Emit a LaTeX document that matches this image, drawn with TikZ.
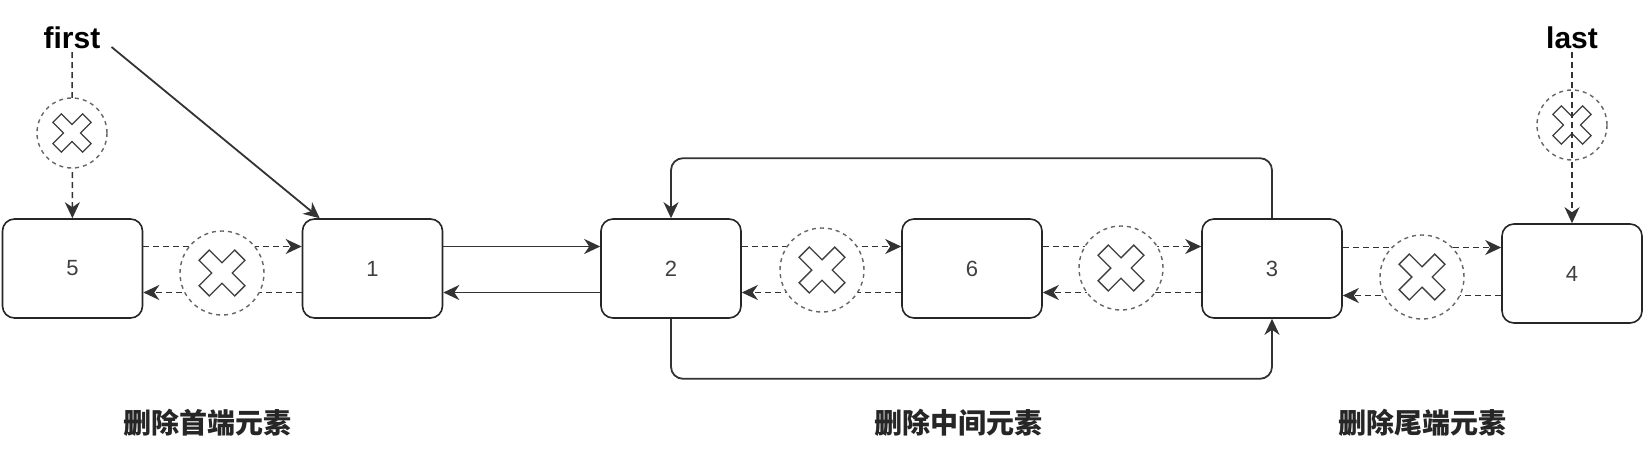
\documentclass[tikz,border=0pt]{standalone}
\usepackage{fontspec}
\setmainfont{Liberation Sans}
\newfontfamily\cjk{Noto Sans CJK SC}
\usetikzlibrary{arrows.meta}

\tikzset{
  listnode/.style={draw=black!85, line width=1.6pt, rounded corners=12pt, minimum width=140pt, minimum height=99pt, fill=white, font=\fontsize{22}{26}\selectfont, text=black!75},
  ptr/.style={font=\fontsize{30}{36}\selectfont\bfseries, inner sep=3pt},
  drop/.style={circle, draw=black!60, dash pattern=on 4pt off 4pt, line width=1.4pt, fill=white, minimum size=84pt, inner sep=0pt},
  link/.style={draw=black!80, line width=1.8pt, -{Stealth[length=16pt,width=15pt,inset=5pt]}},
  oldlink/.style={link, line width=1.5pt, dash pattern=on 6pt off 4pt},
  caption/.style={font=\cjk\bfseries\fontsize{28}{32}\selectfont, text=black!85},
  pics/xmark/.style={code={
    \draw[draw=black!75, line width=1.3pt, fill=white, rotate=45]
      (-6,-21) -- (6,-21) -- (6,-6) -- (21,-6) -- (21,6) -- (6,6) -- (6,21)
      -- (-6,21) -- (-6,6) -- (-21,6) -- (-21,-6) -- (-6,-6) -- cycle;
  }}
}

\begin{document}
\begin{tikzpicture}[x=1pt,y=-1pt]
\path[use as bounding box] (0,0) rectangle (1646,460);
\node[listnode] (n5) at (72.5,268.5) {5};
\node[listnode] (n1) at (372.5,268.5) {1};
\node[listnode] (n2) at (671,268.5) {2};
\node[listnode] (n6) at (972,268.5) {6};
\node[listnode] (n3) at (1272,268.5) {3};
\node[listnode] (n4) at (1572,273.5) {4};
\node[ptr] (first) at (72,38) {first};
\node[ptr] (last) at (1572,38) {last};
% links that are cut
\draw[oldlink] (first) -- (n5);
\draw[oldlink] ([yshift=22pt]n5.east) -- ([yshift=22pt]n1.west);
\draw[oldlink] ([yshift=-24pt]n1.west) -- ([yshift=-24pt]n5.east);
\draw[oldlink] ([yshift=22pt]n2.east) -- ([yshift=22pt]n6.west);
\draw[oldlink] ([yshift=-24pt]n6.west) -- ([yshift=-24pt]n2.east);
\draw[oldlink] ([yshift=22pt]n6.east) -- ([yshift=22pt]n3.west);
\draw[oldlink] ([yshift=-24pt]n3.west) -- ([yshift=-24pt]n6.east);
\draw[oldlink] ([yshift=21pt]n3.east) -- ([yshift=21pt]n3.east -| n4.west);
\draw[oldlink] ([yshift=-27pt]n3.east -| n4.west) -- ([yshift=-27pt]n3.east);
\node[drop, minimum size=70pt] (d0) at (72,133) {};
\node[drop] (d1) at (222,273) {};
\node[drop] (d2) at (822,270) {};
\node[drop] (d3) at (1121,268) {};
\node[drop] (d4) at (1422,277) {};
\node[drop, minimum size=70pt] (d5) at (1572,125) {};
\pic at (d0) {xmark};
\pic at (d5) {xmark};
\foreach \d in {d1,d2,d3,d4}
  \pic[scale=1.2] at (\d) {xmark};
\draw[oldlink] (last) -- (n4);
% new links
\draw[link] ([xshift=8pt,yshift=-9pt]first.east) -- ([xshift=18pt]n1.north west);
\draw[link] ([yshift=22pt]n1.east) -- ([yshift=22pt]n2.west);
\draw[link] ([yshift=-24pt]n2.west) -- ([yshift=-24pt]n1.east);
\draw[link, rounded corners=12pt] (n3.north) -- ++(0,-60) -| (n2.north);
\draw[link, rounded corners=12pt] (n2.south) -- ++(0,60) -| (n3.south);
% captions
\node[caption] (cap1) at (207,423) {删除首端元素};
\node[caption] (cap2) at (958,423) {删除中间元素};
\node[caption] (cap3) at (1422,423) {删除尾端元素};
\end{tikzpicture}
\end{document}
